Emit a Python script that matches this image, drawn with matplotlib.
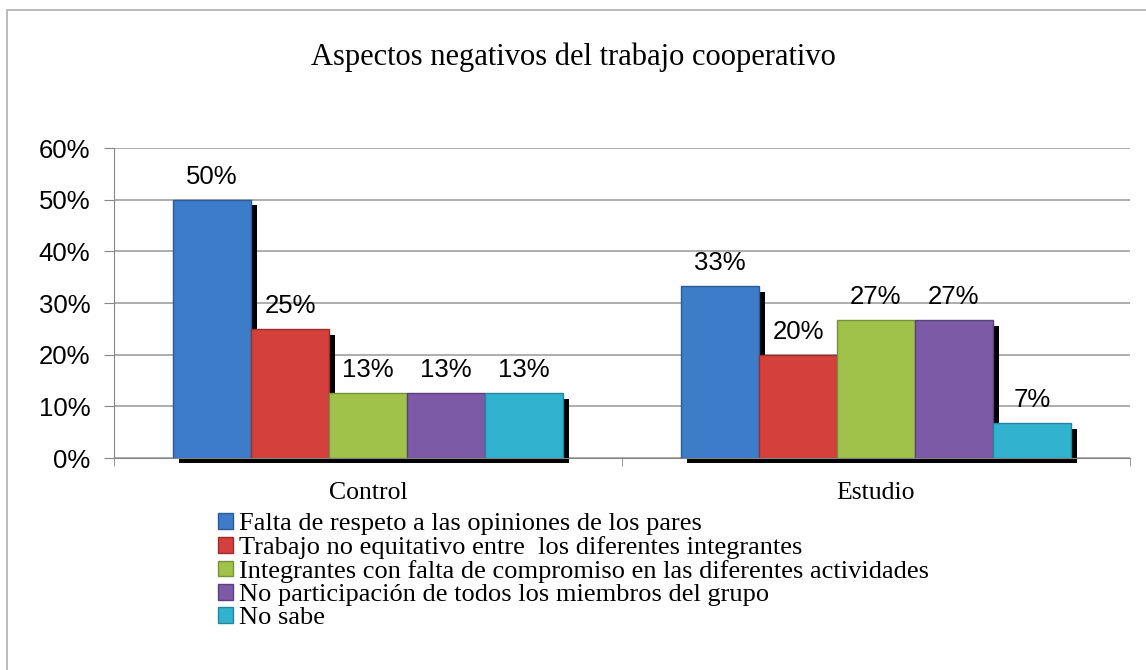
import numpy as np
import matplotlib.pyplot as plt
from matplotlib.patches import Rectangle

# data
groups = ['Control', 'Estudio']
series = ['Falta de respeto a las opiniones de los pares',
          'Trabajo no equitativo entre  los diferentes integrantes',
          'Integrantes con falta de compromiso en las diferentes actividades',
          'No participación de todos los miembros del grupo',
          'No sabe']
control = [50.0, 25.0, 12.5, 12.5, 12.5]
estudio = [33.3, 20.0, 26.7, 26.7, 6.7]
labels_control = ['50%', '25%', '13%', '13%', '13%']
labels_estudio = ['33%', '20%', '27%', '27%', '7%']
colors = ['#3d7cc9', '#d4413d', '#a0c14a', '#7c5aa6', '#31b2cf']
edges = ['#2a5a9a', '#9a2e2a', '#76913a', '#5a417d', '#23879f']

values = np.array([control, estudio])
texts = [labels_control, labels_estudio]

fig = plt.figure(figsize=(11.46, 6.7), dpi=100)
ax = fig.add_axes([0.0995, 0.3164, 0.8865, 0.4627])

# outer border of the chart area
fig.patches.append(Rectangle((7/1146, -0.05), 1.2, 1 - 10/670 + 0.05, transform=fig.transFigure,
                             fill=False, edgecolor='#b0b0b0', linewidth=1.2, zorder=0))

x = np.arange(len(groups))
w = 0.1535
dx = 6 / 508.0
dy = 1.1

for i in range(len(series)):
    pos = x + (i - 2) * w
    vals = values[:, i]
    # shadow
    ax.bar(pos + dx, vals - dy + 0.9, w, bottom=-0.9, color='black', zorder=2, clip_on=False)
    bars = ax.bar(pos, vals, w, color=colors[i], edgecolor=edges[i], linewidth=1.0,
                  label=series[i], zorder=3)
    for j, b in enumerate(bars):
        ax.annotate(texts[j][i], (b.get_x() + b.get_width() / 2, vals[j]),
                    xytext=(0, 8), textcoords='offset points', ha='center', va='bottom',
                    fontsize=18.5, family='Liberation Sans')

ax.set_xlim(-0.5, 1.5)
ax.set_ylim(0, 60)
ax.set_yticks(np.arange(0, 61, 10))
ax.set_yticklabels([str(v) + '%' for v in range(0, 61, 10)], fontsize=18.5, family='Liberation Sans')
ax.set_xticks(x)
ax.set_xticklabels(groups, fontsize=18.5, family='Liberation Serif')
ax.set_xticks([-0.5, 0.5, 1.5], minor=True)
ax.tick_params(axis='x', which='major', length=0, pad=17)
ax.tick_params(axis='x', which='minor', length=6, color='#868686')
ax.tick_params(axis='y', length=7, color='#868686', pad=10)
ax.grid(axis='y', color='#a0a0a0', linewidth=1.2, zorder=0)
for s in ['top', 'right']:
    ax.spines[s].set_visible(False)
ax.spines['left'].set_color('#868686')
ax.spines['bottom'].set_color('#868686')
ax.spines['bottom'].set_zorder(4)

fig.text(0.5, 1 - 57/670, 'Aspectos negativos del trabajo cooperativo', ha='center', va='center',
         fontsize=22, family='Liberation Serif')

ax.legend(loc='upper left', bbox_to_anchor=(218/1146, 1 - 513/670), bbox_transform=fig.transFigure,
          frameon=False, prop={'family': 'Liberation Serif', 'size': 19},
          handlelength=0.55, handleheight=0.55, handletextpad=0.25, labelspacing=0.03,
          borderaxespad=0, borderpad=0)

plt.savefig('out.png', dpi=100)
